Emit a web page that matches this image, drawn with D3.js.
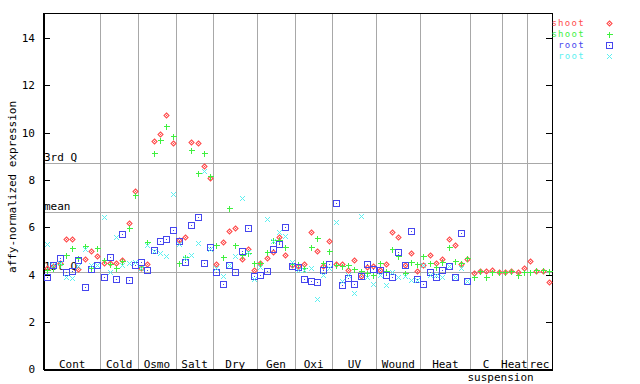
<!DOCTYPE html>
<html><head><meta charset="utf-8">
<script src="https://cdn.jsdelivr.net/npm/d3@7"></script>
<style>body{margin:0;background:#fff}svg{display:block}text{font-family:"DejaVu Sans Mono",monospace;font-size:11px}text.leg{font-size:9px;letter-spacing:1.3px}</style>
</head><body>
<script>
const groups = ["Cont","Cold","Osmo","Salt","Dry","Gen","Oxi","UV","Wound","Heat","C","Heat","rec"];
const groupCounts = [9,6,6,6,7,6,6,7,7,8,5,4,4];
const seriesNames = ["shoot","shoot","root","root"];
const shootA = [4.3,4.35,4.48,5.49,5.49,4.22,4.65,5.0,4.79, 4.48,4.5,4.5,4.62,6.19,7.53, 4.27,4.45,9.65,9.94,10.73,9.55, 5.46,5.58,9.59,9.55,8.59,8.07, 4.44,5.37,5.83,5.96,4.65,5.07,4.18, 4.5,4.69,4.96,5.58,4.82,4.4, 4.35,4.45,5.79,5.01,4.35,5.43, 4.45,4.45,4.2,4.62,3.95,4.31,4.35, 4.2,4.45,5.79,5.58,4.39,4.93,4.14, 4.41,4.83,4.5,4.65,5.49,5.25,4.45,4.65, 4.06,4.17,4.17,4.2,4.13, 4.13,4.15,4.13,4.27, 4.56,4.17,4.17,3.67];
const shootB = [4.2,4.3,4.45,4.83,5.11,4.7,5.2,4.3,5.11, 4.62,4.45,4.27,4.58,5.96,7.36, 4.34,5.37,9.12,9.67,10.27,9.86, 4.49,4.76,9.25,8.28,9.12,8.17, 5.25,4.73,6.8,5.25,4.83,4.9,4.5, 4.5,4.96,5.46,5.45,5.15,4.45, 4.45,4.3,5.18,5.53,4.48,5.01, 4.4,4.35,4.4,4.22,4.17,4.06,3.98, 4.5,4.17,5.07,4.8,4.06,4.53,4.45, 4.79,4.48,4.31,4.55,5.15,4.59,4.5,4.69, 3.91,4.17,3.91,4.11,4.11, 4.11,4.14,3.97,4.1, 4.1,4.2,4.2,4.17];
const rootA = [3.89,4.41,4.69,4.12,4.17,4.6,3.46,4.22,4.41, 3.89,4.73,3.8,5.7,3.77,4.41, 4.55,4.2,5.03,5.4,5.49,5.87, 5.42,4.52,6.1,6.42,4.48,5.15, 4.1,3.59,4.39,4.11,4.98,5.96,3.94, 3.97,4.15,5.07,5.29,6.0,4.36, 4.31,3.8,3.72,3.69,4.2,4.45, 7.01,3.55,3.84,3.6,3.94,4.45,4.22, 4.2,3.97,3.89,4.94,4.39,5.83,3.8, 3.6,4.11,3.89,4.2,4.36,3.89,5.74,3.74];
const rootB = [5.29,4.41,4.5,3.91,3.84,4.35,5.1,4.41,4.4, 6.45,4.11,5.58,4.42,4.5,4.55, 4.3,5.25,5.0,4.9,4.8,7.39, 5.28,4.7,4.83,5.35,8.39,5.07, 4.3,3.94,4.39,4.79,7.22,4.95,3.8, 4.34,6.34,5.4,5.82,5.63,4.55, 4.2,4.2,4.27,2.96,3.98,4.3, 6.24,3.74,3.98,3.21,6.48,3.89,3.6, 4.0,3.56,4.1,3.89,3.94,3.77,3.77, 4.4,3.98,3.98,3.91,4.36,3.89,4.27,3.74];
const yTicks = [0,2,4,6,8,10,12,14];
const refLines = [{label:"3rd Q", v:8.70},{label:"mean", v:6.63},{label:"1st Q", v:4.12}];
const colors = ["#ff4d4d","#3ff03f","#4646ee","#5cf0f0"];
const shapes = ["diamond","plus","square","cross"];

const W=640,H=384, L=44, R=552, T=13, B=369;
const svg = d3.select("body").append("svg").attr("width",W).attr("height",H);
const nSamples = d3.sum(groupCounts);
const x = d3.scaleBand().domain(d3.range(nSamples)).range([L,R]);
const y = d3.scaleLinear().domain([0,15]).range([369.3,14.3]);
const g = svg.append("g");

let starts=[], acc=0;
groupCounts.forEach(c=>{starts.push(acc); acc+=c;});
const bounds = starts.slice(1);
g.selectAll(".vg").data(bounds).join("line")
 .attr("x1",d=>Math.round(x(d))+0.5).attr("x2",d=>Math.round(x(d))+0.5)
 .attr("y1",T).attr("y2",B).attr("stroke","#a8a8a8").attr("stroke-width",1).attr("shape-rendering","crispEdges");
g.selectAll(".hl").data(refLines).join("line")
 .attr("x1",L).attr("x2",R).attr("y1",d=>Math.round(y(d.v))+0.5).attr("y2",d=>Math.round(y(d.v))+0.5)
 .attr("stroke","#a8a8a8").attr("stroke-width",1).attr("shape-rendering","crispEdges");
g.selectAll(".hlt").data(refLines).join("text")
 .attr("x",L).attr("y",d=>Math.round(y(d.v))-2).text(d=>d.label).attr("fill","#000");

const yAxisL = d3.axisLeft(y).tickValues(yTicks).tickSize(-6).tickPadding(9).tickFormat(d3.format("d"));
const ax = svg.append("g").attr("transform",`translate(${L},0)`).call(yAxisL);
ax.select(".domain").remove();
const yAxisR = d3.axisRight(y).tickValues(yTicks).tickSize(-6).tickFormat("");
const axr = svg.append("g").attr("transform",`translate(${R},0)`).call(yAxisR);
axr.select(".domain").remove();
svg.selectAll(".tick line").attr("stroke","#000").attr("shape-rendering","crispEdges");
svg.append("rect").attr("x",L+0.5).attr("y",T+0.5).attr("width",R-L).attr("height",B-T)
 .attr("fill","none").attr("stroke","#000").attr("stroke-width",1).attr("shape-rendering","crispEdges");
svg.append("line").attr("x1",L).attr("x2",R+1).attr("y1",B+1).attr("y2",B+1).attr("stroke","#000").attr("shape-rendering","crispEdges");
svg.append("line").attr("x1",L-0.5).attr("x2",L-0.5).attr("y1",T).attr("y2",B+1).attr("stroke","#000").attr("shape-rendering","crispEdges");

const labY = 368;
groups.forEach((name,i)=>{
  const cx = (x(starts[i]) + x(starts[i]+groupCounts[i]-1)+x.bandwidth())/2;
  svg.append("text").attr("x",cx).attr("y",labY).attr("text-anchor","middle").text(name);
});
svg.append("text").attr("x",x(starts[10])-3).attr("y",381).text("suspension");

svg.append("text").attr("transform","translate(16,187) rotate(-90)").attr("text-anchor","middle").text("affy-normalized expression");

function drawMark(sel, shape, color){
  if(shape==="diamond"){
    sel.append("path").attr("d","M0.5,-2L3,0.5L0.5,3L-2,0.5Z").attr("fill","none").attr("stroke",color).attr("stroke-width",1.1);
    sel.append("rect").attr("x",0).attr("y",0).attr("width",1).attr("height",1).attr("fill",color);
  } else if(shape==="plus"){
    sel.append("path").attr("d","M-2.5,0.5H3.5M0.5,-2.5V3.5").attr("stroke",color).attr("stroke-width",1).attr("shape-rendering","crispEdges");
  } else if(shape==="square"){
    sel.append("rect").attr("x",-2.5).attr("y",-2.5).attr("width",6).attr("height",6).attr("fill","none").attr("stroke",color).attr("stroke-width",1).attr("shape-rendering","crispEdges");
    sel.append("rect").attr("x",0).attr("y",0).attr("width",1).attr("height",1).attr("fill",color);
  } else {
    sel.append("path").attr("d","M-2,-2L3,3M-2,3L3,-2").attr("stroke",color).attr("stroke-width",1);
  }
}
const allSeries=[shootA,shootB,rootA,rootB];
allSeries.forEach((vals,si)=>{
  vals.forEach((v,i)=>{
    if(v==null) return;
    const px = Math.round(x(i)+x.bandwidth()/2), py=Math.round(y(v));
    const m = svg.append("g").attr("transform",`translate(${px},${py})`);
    drawMark(m, shapes[si], colors[si]);
  });
});

seriesNames.forEach((n,i)=>{
  const ly = 23 + i*11;
  svg.append("text").attr("class","leg").attr("x",585).attr("y",ly+3).attr("text-anchor","end").attr("fill",colors[i]).text(n);
  const m = svg.append("g").attr("transform",`translate(609,${ly})`);
  drawMark(m, shapes[i], colors[i]);
});
</script>
</body></html>
